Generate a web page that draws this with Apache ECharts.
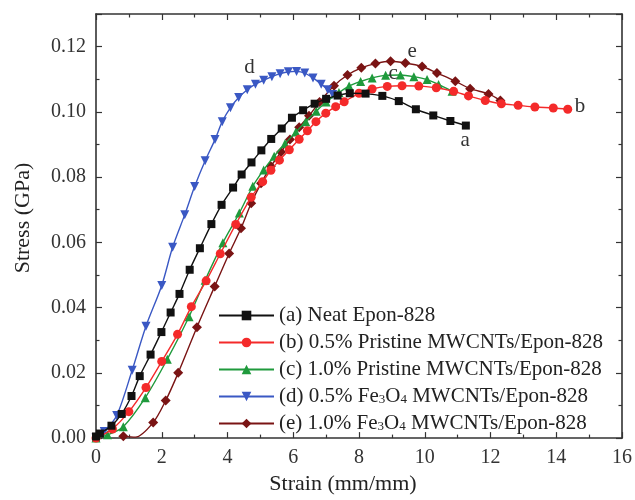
<!DOCTYPE html>
<html>
<head>
<meta charset="utf-8">
<script src="https://cdn.jsdelivr.net/npm/echarts@6/dist/echarts.min.js"></script>
<style>
  html, body { margin: 0; padding: 0; background: #fff; }
  #chart { width: 635px; height: 500px; }
</style>
</head>
<body>
<div id="chart"></div>
<script>
// strain (mm/mm), stress (GPa)
const neatEpon = [[0,0.0005],[0.12,0.0014],[0.47,0.0038],[0.78,0.0074],[1.08,0.0129],[1.33,0.019],[1.66,0.0256],[1.99,0.0325],[2.27,0.0385],[2.54,0.0442],[2.85,0.0516],[3.16,0.0582],[3.51,0.0656],[3.82,0.0715],[4.17,0.0768],[4.43,0.0808],[4.73,0.0845],[5.03,0.0882],[5.33,0.0917],[5.65,0.0949],[5.96,0.0982],[6.3,0.1005],[6.65,0.1025],[7.0,0.1040],[7.35,0.1050],[7.72,0.1057],[8.2,0.1056],[8.71,0.1049],[9.21,0.1033],[9.73,0.1008],[10.26,0.0989],[10.78,0.0972],[11.25,0.0958]];
const pristine05 = [[0,0],[0.5,0.0028],[1.0,0.0081],[1.52,0.0155],[2.0,0.0235],[2.48,0.0318],[2.9,0.0403],[3.35,0.0482],[3.78,0.0565],[4.25,0.0655],[4.72,0.0738],[5.07,0.0786],[5.32,0.0821],[5.58,0.0852],[5.88,0.0884],[6.18,0.0916],[6.43,0.0942],[6.69,0.0970],[6.99,0.0996],[7.29,0.1016],[7.55,0.1031],[8.0,0.1057],[8.4,0.1070],[8.86,0.1078],[9.31,0.1080],[9.82,0.1079],[10.35,0.1074],[10.88,0.1063],[11.33,0.1049],[11.84,0.1035],[12.33,0.1025],[12.84,0.1020],[13.35,0.1015],[13.91,0.1012],[14.35,0.1008]];
const pristine10 = [[0,0],[0.35,0.001],[0.83,0.0035],[1.5,0.0124],[2.17,0.0242],[2.83,0.0372],[3.32,0.0484],[3.86,0.0599],[4.36,0.069],[4.77,0.0772],[5.1,0.0822],[5.42,0.0864],[5.75,0.0903],[6.08,0.0938],[6.38,0.0970],[6.7,0.1002],[7.0,0.1030],[7.39,0.1059],[7.7,0.1079],[8.05,0.1093],[8.4,0.1104],[8.81,0.1112],[9.26,0.1113],[9.67,0.1108],[10.07,0.1099],[10.42,0.1084],[10.83,0.1063]];
const fe05 = [[0,0],[0.25,0.002],[0.63,0.0069],[1.1,0.0208],[1.52,0.0343],[2.0,0.0468],[2.33,0.0585],[2.7,0.0685],[3.0,0.0771],[3.32,0.085],[3.62,0.0915],[3.84,0.097],[4.09,0.1013],[4.34,0.1044],[4.6,0.1068],[4.85,0.1085],[5.1,0.1097],[5.35,0.1108],[5.6,0.1117],[5.85,0.1123],[6.1,0.1124],[6.35,0.1119],[6.6,0.1104],[6.85,0.1085],[7.05,0.1068],[7.2,0.1053]];
const fe10 = [[0.83,0.0006],[1.2,0.0003],[1.74,0.0048],[2.12,0.0115],[2.5,0.0200],[3.07,0.0340],[3.61,0.0465],[4.05,0.0566],[4.41,0.0643],[4.72,0.0720],[5.02,0.0781],[5.32,0.0833],[5.63,0.0877],[5.9,0.0915],[6.18,0.0953],[6.48,0.0988],[6.8,0.1030],[7.24,0.1080],[7.65,0.1113],[8.07,0.1135],[8.5,0.1148],[8.96,0.1155],[9.41,0.1150],[9.92,0.1139],[10.37,0.1119],[10.93,0.1094],[11.38,0.1071],[11.94,0.1055],[12.3,0.1035]];
const fe10Unmarked = [1];   // line-only point where the curve leaves zero

const names = ['(a) Neat Epon-828','(b) 0.5% Pristine MWCNTs/Epon-828','(c) 1.0% Pristine MWCNTs/Epon-828','(d) 0.5% Fe3O4 MWCNTs/Epon-828','(e) 1.0% Fe3O4 MWCNTs/Epon-828'];
const curveTags = ['a','b','c','d','e'];
const tagCoords = [[11.23,0.0912],[14.72,0.1018],[9.04,0.1117],[4.67,0.1135],[9.62,0.1185]];

const colors = ['#111111','#f42a2a','#1f9a3c','#3a58c4','#7a1414'];
const symbols = ['rect','circle','triangle','triangle','diamond'];
const rotates = [0,0,0,180,0];
const sizes = [8,9,9,9,10];
const allData = [neatEpon, pristine05, pristine10, fe05, fe10];

const font = '"Liberation Serif", "DejaVu Serif", serif';
const axisColor = '#333';

const chart = echarts.init(document.getElementById('chart'));

const series = allData.map((d, i) => ({
    name: names[i],
    type: 'line',
    data: d.map((p, j) => (i === 4 && fe10Unmarked.includes(j)) ? { value: p, symbol: 'none' } : p),
    smooth: 0.3,
    symbol: symbols[i],
    symbolRotate: rotates[i],
    symbolSize: sizes[i],
    showAllSymbol: true,
    color: colors[i],
    lineStyle: { width: 1.4, color: colors[i] },
    itemStyle: { color: colors[i] },
    z: 5 - i,
    markPoint: {
        symbol: 'circle', symbolSize: 0, animation: false,
        label: { show: true, position: 'inside', color: '#333', fontSize: 21, fontFamily: font, formatter: curveTags[i] },
        data: [{ coord: tagCoords[i] }]
    }
}));

const tickStyle = { show: true, inside: true, length: 6, lineStyle: { color: axisColor, width: 1.2 } };
const minorStyle = { show: true, splitNumber: 2, length: 3.5, lineStyle: { color: axisColor, width: 1.2 } };
const lineAx = { show: true, onZero: false, lineStyle: { color: axisColor, width: 1.6 } };

chart.setOption({
    animation: false,
    backgroundColor: '#fff',
    grid: { left: 96, right: 11, top: 14, bottom: 57, containLabel: false },
    legend: {
        orient: 'vertical',
        left: 213, top: 300,
        itemWidth: 55, itemHeight: 12, itemGap: 6,
        data: names,
        textStyle: {
            fontFamily: font, fontSize: 21, color: '#222', lineHeight: 20,
            rich: { sub: { fontFamily: font, fontSize: 13, color: '#222', verticalAlign: 'bottom', padding: [12, 0, 0, 0] } }
        },
        formatter: n => n.replace('Fe3O4', 'Fe{sub|3}O{sub|4}')
    },
    xAxis: [{
        type: 'value', min: 0, max: 16, interval: 2,
        name: 'Strain (mm/mm)', nameLocation: 'middle', nameGap: 30,
        nameTextStyle: { fontFamily: font, fontSize: 22, color: '#222', padding: [0, 32, 0, 0] },
        axisLine: lineAx, axisTick: tickStyle, minorTick: minorStyle,
        axisLabel: { fontFamily: font, fontSize: 20, color: '#333', margin: 10 },
        splitLine: { show: false }
    }, {
        type: 'value', min: 0, max: 16, interval: 2, position: 'top',
        axisLine: lineAx, axisTick: tickStyle, minorTick: minorStyle,
        axisLabel: { show: false }, splitLine: { show: false }
    }],
    yAxis: [{
        type: 'value', min: 0, max: 0.13, interval: 0.02,
        name: 'Stress (GPa)', nameLocation: 'middle', nameGap: 62, nameRotate: 90,
        nameTextStyle: { fontFamily: font, fontSize: 22, color: '#222', padding: [0, 0, 0, 16] },
        axisLine: lineAx, axisTick: tickStyle, minorTick: minorStyle,
        axisLabel: { fontFamily: font, fontSize: 20, color: '#333', margin: 10, formatter: v => v > 0.125 ? '' : v.toFixed(2) },
        splitLine: { show: false }
    }, {
        type: 'value', min: 0, max: 0.13, interval: 0.02, position: 'right',
        axisLine: lineAx, axisTick: tickStyle, minorTick: minorStyle,
        axisLabel: { show: false }, splitLine: { show: false }
    }],
    series: series
});
</script>
</body>
</html>
